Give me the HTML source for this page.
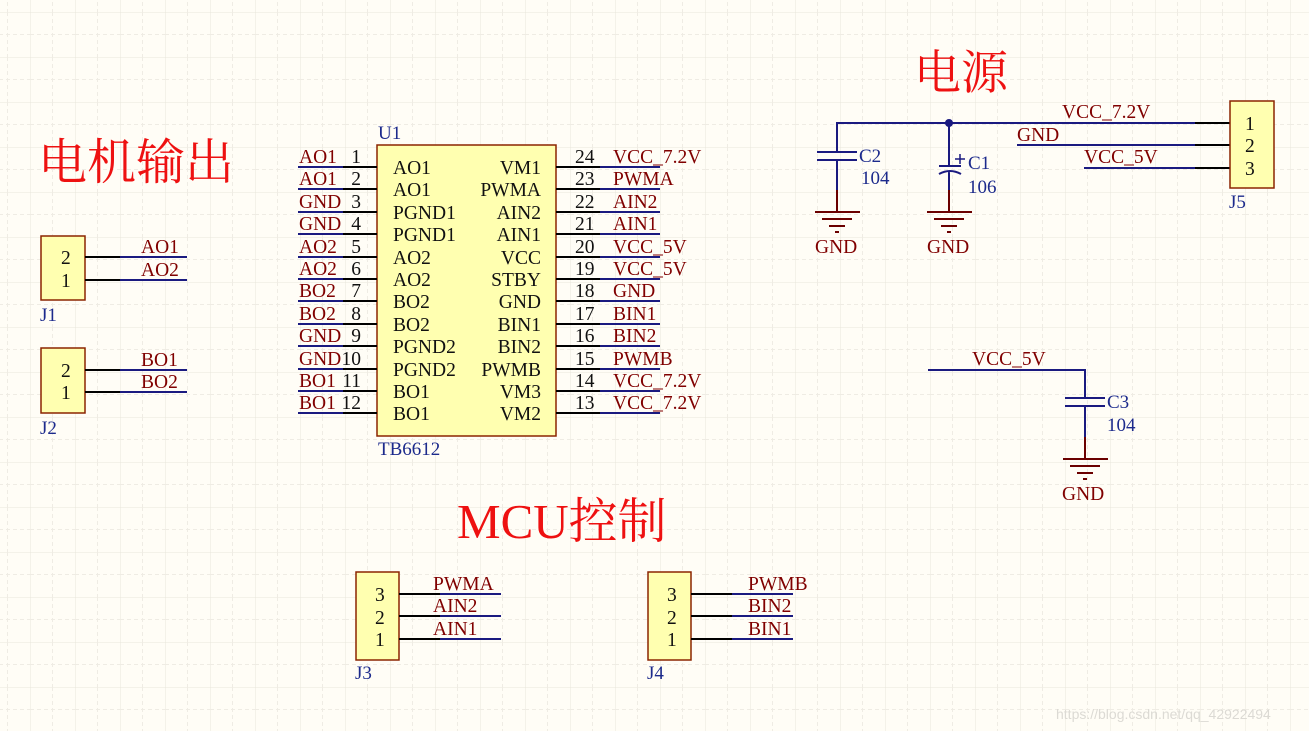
<!DOCTYPE html>
<html><head><meta charset="utf-8"><style>
html,body{margin:0;padding:0;background:#fffdf6;}
svg{display:block}
.n{font-family:"Liberation Serif",serif;font-size:19.5px;fill:#800000}
.b{font-family:"Liberation Serif",serif;font-size:19px;fill:#1c2a8c}
.k{font-family:"Liberation Serif",serif;font-size:19.5px;fill:#111}
.t{font-family:"Liberation Serif","Noto Serif CJK SC",serif;fill:#ee1111}
</style></head><body>
<svg width="1309" height="731" viewBox="0 0 1309 731" xmlns="http://www.w3.org/2000/svg">
<defs>
<pattern id="g" x="30" y="12" width="45" height="45" patternUnits="userSpaceOnUse">
<path d="M0 0V45M0 0H45" stroke="#e9e6dc" stroke-width="1" fill="none"/>
<path d="M22.5 0V45M0 22.5H45" stroke="#efece4" stroke-width="1" stroke-dasharray="4 3" fill="none"/>
</pattern>
</defs>
<rect width="1309" height="731" fill="#fffdf6"/>
<rect width="1309" height="731" fill="url(#g)"/>

<!-- titles -->
<text class="t" x="38" y="179" font-size="49">电机输出</text>
<text class="t" x="914" y="89" font-size="47">电源</text>
<text class="t" x="457" y="538" font-size="49">MCU控制</text>

<!-- U1 -->
<rect x="377" y="145" width="179" height="291" fill="#ffffb0" stroke="#8b2500" stroke-width="1.5"/>
<text class="b" x="378" y="139">U1</text>
<text class="b" x="378" y="455">TB6612</text>
<g stroke-width="2" fill="none">
<g stroke="#1a1a80">
<path d="M298 167H343M298 189H343M298 212H343M298 234H343M298 257H343M298 279H343M298 301H343M298 324H343M298 346H343M298 369H343M298 391H343M298 413H343"/>
<path d="M600 167H660M600 189H660M600 212H660M600 234H660M600 257H660M600 279H660M600 301H660M600 324H660M600 346H660M600 369H660M600 391H660M600 413H660"/>
</g>
<g stroke="#000">
<path d="M343 167H377M343 189H377M343 212H377M343 234H377M343 257H377M343 279H377M343 301H377M343 324H377M343 346H377M343 369H377M343 391H377M343 413H377"/>
<path d="M556 167H600M556 189H600M556 212H600M556 234H600M556 257H600M556 279H600M556 301H600M556 324H600M556 346H600M556 369H600M556 391H600M556 413H600"/>
</g>
</g>
<g class="n">
<text x="299" y="163">AO1</text><text x="299" y="185">AO1</text><text x="299" y="208">GND</text><text x="299" y="230">GND</text>
<text x="299" y="253">AO2</text><text x="299" y="275">AO2</text><text x="299" y="297">BO2</text><text x="299" y="320">BO2</text>
<text x="299" y="342">GND</text><text x="299" y="365">GND</text><text x="299" y="387">BO1</text><text x="299" y="409">BO1</text>
<text x="613" y="163">VCC_7.2V</text><text x="613" y="185">PWMA</text><text x="613" y="208">AIN2</text><text x="613" y="230">AIN1</text>
<text x="613" y="253">VCC_5V</text><text x="613" y="275">VCC_5V</text><text x="613" y="297">GND</text><text x="613" y="320">BIN1</text>
<text x="613" y="342">BIN2</text><text x="613" y="365">PWMB</text><text x="613" y="387">VCC_7.2V</text><text x="613" y="409">VCC_7.2V</text>
</g>
<g class="k" text-anchor="end">
<text x="361" y="163">1</text><text x="361" y="185">2</text><text x="361" y="208">3</text><text x="361" y="230">4</text>
<text x="361" y="253">5</text><text x="361" y="275">6</text><text x="361" y="297">7</text><text x="361" y="320">8</text>
<text x="361" y="342">9</text><text x="361" y="365">10</text><text x="361" y="387">11</text><text x="361" y="409">12</text>
</g>
<g class="k">
<text x="575" y="163">24</text><text x="575" y="185">23</text><text x="575" y="208">22</text><text x="575" y="230">21</text>
<text x="575" y="253">20</text><text x="575" y="275">19</text><text x="575" y="297">18</text><text x="575" y="320">17</text>
<text x="575" y="342">16</text><text x="575" y="365">15</text><text x="575" y="387">14</text><text x="575" y="409">13</text>
<text x="393" y="174">AO1</text><text x="393" y="196">AO1</text><text x="393" y="219">PGND1</text><text x="393" y="241">PGND1</text>
<text x="393" y="264">AO2</text><text x="393" y="286">AO2</text><text x="393" y="308">BO2</text><text x="393" y="331">BO2</text>
<text x="393" y="353">PGND2</text><text x="393" y="376">PGND2</text><text x="393" y="398">BO1</text><text x="393" y="420">BO1</text>
</g>
<g class="k" text-anchor="end">
<text x="541" y="174">VM1</text><text x="541" y="196">PWMA</text><text x="541" y="219">AIN2</text><text x="541" y="241">AIN1</text>
<text x="541" y="264">VCC</text><text x="541" y="286">STBY</text><text x="541" y="308">GND</text><text x="541" y="331">BIN1</text>
<text x="541" y="353">BIN2</text><text x="541" y="376">PWMB</text><text x="541" y="398">VM3</text><text x="541" y="420">VM2</text>
</g>

<!-- J1 J2 -->
<rect x="41" y="236" width="44" height="64" fill="#ffffb0" stroke="#8b2500" stroke-width="1.5"/>
<rect x="41" y="348" width="44" height="65" fill="#ffffb0" stroke="#8b2500" stroke-width="1.5"/>
<g stroke-width="2">
<path d="M85 257H120M85 280H120M85 370H120M85 392H120" stroke="#000"/>
<path d="M120 257H187M120 280H187M120 370H187M120 392H187" stroke="#1a1a80"/>
</g>
<g class="k"><text x="61" y="264">2</text><text x="61" y="287">1</text><text x="61" y="377">2</text><text x="61" y="399">1</text></g>
<g class="n"><text x="141" y="253">AO1</text><text x="141" y="276">AO2</text><text x="141" y="366">BO1</text><text x="141" y="388">BO2</text></g>
<text class="b" x="40" y="321">J1</text><text class="b" x="40" y="434">J2</text>

<!-- J3 J4 -->
<rect x="356" y="572" width="43" height="88" fill="#ffffb0" stroke="#8b2500" stroke-width="1.5"/>
<rect x="648" y="572" width="43" height="88" fill="#ffffb0" stroke="#8b2500" stroke-width="1.5"/>
<g stroke-width="2">
<path d="M399 594H440M399 616H440M399 639H440M691 594H732M691 616H732M691 639H732" stroke="#000"/>
<path d="M440 594H501M440 616H501M440 639H501M732 594H793M732 616H793M732 639H793" stroke="#1a1a80"/>
</g>
<g class="k"><text x="375" y="601">3</text><text x="375" y="624">2</text><text x="375" y="646">1</text>
<text x="667" y="601">3</text><text x="667" y="624">2</text><text x="667" y="646">1</text></g>
<g class="n"><text x="433" y="590">PWMA</text><text x="433" y="612">AIN2</text><text x="433" y="635">AIN1</text>
<text x="748" y="590">PWMB</text><text x="748" y="612">BIN2</text><text x="748" y="635">BIN1</text></g>
<text class="b" x="355" y="679">J3</text><text class="b" x="647" y="679">J4</text>

<!-- power -->
<g stroke-width="2" fill="none">
<path d="M837 152V123H1195M1017 145H1195M1084 168H1195M949 123V166" stroke="#1a1a80"/>
<path d="M1195 123H1230M1195 145H1230M1195 168H1230" stroke="#000"/>
<path d="M817 152H857M817 160H857M837 160V190" stroke="#1a1a80"/>
<path d="M837 190V212M949 190V212" stroke="#6b0000"/>
<path d="M939 166H961" stroke="#1a1a80"/>
<path d="M939 174Q950 168 961 174M949 171V190" stroke="#1a1a80"/>
<path d="M960 154V164M955 159H965" stroke="#1a1a80" stroke-width="1.5"/>
<path d="M815 212H860M822 219H852M829 226H845M835 232H839" stroke="#6b0000"/>
<path d="M927 212H972M934 219H964M941 226H957M947 232H951" stroke="#6b0000"/>
</g>
<circle cx="949" cy="123" r="4" fill="#1a1a80"/>
<rect x="1230" y="101" width="44" height="87" fill="#ffffb0" stroke="#8b2500" stroke-width="1.5"/>
<g class="k"><text x="1245" y="130">1</text><text x="1245" y="152">2</text><text x="1245" y="175">3</text></g>
<text class="b" x="1229" y="208">J5</text>
<g class="n"><text x="1062" y="118">VCC_7.2V</text><text x="1017" y="141">GND</text><text x="1084" y="163">VCC_5V</text>
<text x="815" y="253">GND</text><text x="927" y="253">GND</text></g>
<g class="b"><text x="859" y="162">C2</text><text x="861" y="184">104</text><text x="968" y="169">C1</text><text x="968" y="193">106</text></g>

<!-- C3 -->
<g stroke-width="2" fill="none">
<path d="M928 370H1085V398M1065 398H1105M1065 406H1105M1085 406V437" stroke="#1a1a80"/>
<path d="M1085 437V459M1063 459H1108M1070 466H1100M1077 473H1093M1083 479H1087" stroke="#6b0000"/>
</g>
<text class="n" x="972" y="365">VCC_5V</text>
<text class="n" x="1062" y="500">GND</text>
<text class="b" x="1107" y="408">C3</text><text class="b" x="1107" y="431">104</text>

<text x="1056" y="719" font-family="Liberation Sans,sans-serif" font-size="14" fill="#dcdad4">https://blog.csdn.net/qq_42922494</text>
</svg>
</body></html>
